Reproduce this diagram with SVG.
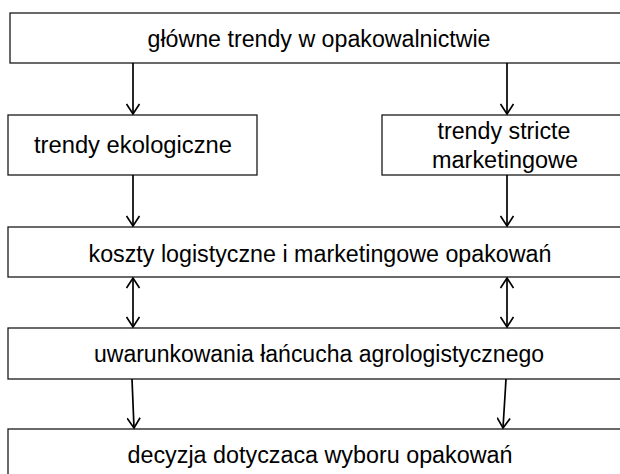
<svg xmlns="http://www.w3.org/2000/svg" width="620" height="474" viewBox="0 0 620 474">
<defs>
<style>
.box{fill:#fff;stroke:#1a1a1a;stroke-width:1.3}
.t{font-family:"Liberation Sans",Arial,sans-serif;font-size:23px;fill:#000;text-anchor:middle}
.c{stroke:#000;stroke-width:1.7;fill:none}
</style>
<marker id="ah" markerWidth="14" markerHeight="14" refX="12" refY="7" orient="auto-start-reverse" markerUnits="userSpaceOnUse" viewBox="0 0 14 14">
<path d="M2,0.5 L12,7 L2,13.5" fill="none" stroke="#000" stroke-width="1.7"/>
</marker>
</defs>
<rect width="620" height="474" fill="#fff"/>
<g id="n1"><rect class="box" x="10" y="13" width="640" height="50"/><text class="t" x="319" y="47" textLength="343" lengthAdjust="spacingAndGlyphs">główne trendy w opakowalnictwie</text></g>
<g id="n2"><rect class="box" x="8" y="115" width="249" height="60"/><text class="t" x="133" y="153" textLength="198" lengthAdjust="spacingAndGlyphs">trendy ekologiczne</text></g>
<g id="n3"><rect class="box" x="382" y="115" width="260" height="60"/><text class="t" x="504" y="139" textLength="133" lengthAdjust="spacingAndGlyphs">trendy stricte</text><text class="t" x="505" y="168" textLength="146" lengthAdjust="spacingAndGlyphs">marketingowe</text></g>
<g id="n4"><rect class="box" x="8" y="227" width="640" height="50"/><text class="t" x="320" y="262" textLength="463" lengthAdjust="spacingAndGlyphs">koszty logistyczne i marketingowe opakowań</text></g>
<g id="n5"><rect class="box" x="8" y="328" width="640" height="51"/><text class="t" x="319" y="362" textLength="450" lengthAdjust="spacingAndGlyphs">uwarunkowania łańcucha agrologistycznego</text></g>
<g id="n6"><rect class="box" x="8" y="429" width="640" height="60"/><text class="t" x="320" y="463" textLength="385" lengthAdjust="spacingAndGlyphs">decyzja dotyczaca wyboru opakowań</text></g>
<g id="connectors">
<line class="c" x1="133" y1="63" x2="133" y2="114" marker-end="url(#ah)"/>
<line class="c" x1="507" y1="63" x2="507" y2="114" marker-end="url(#ah)"/>
<line class="c" x1="133" y1="175" x2="133" y2="226" marker-end="url(#ah)"/>
<line class="c" x1="507" y1="175" x2="507" y2="226" marker-end="url(#ah)"/>
<line class="c" x1="133" y1="278" x2="133" y2="327" marker-start="url(#ah)" marker-end="url(#ah)"/>
<line class="c" x1="507" y1="278" x2="507" y2="327" marker-start="url(#ah)" marker-end="url(#ah)"/>
<line class="c" x1="132" y1="379" x2="134" y2="428" marker-end="url(#ah)"/>
<line class="c" x1="506" y1="379" x2="503" y2="428" marker-end="url(#ah)"/>
</g>
</svg>
